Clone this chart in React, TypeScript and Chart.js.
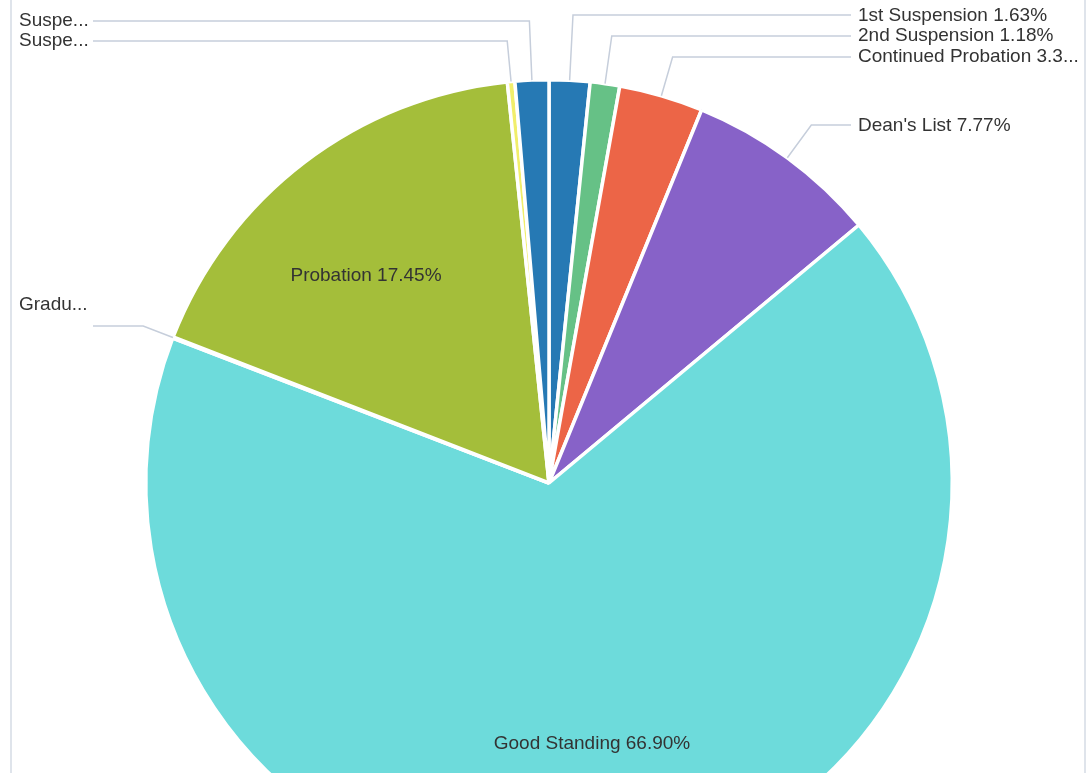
import React, { useEffect, useRef } from 'react';
import { Chart, registerables } from 'chart.js';

Chart.register(...registerables);

// ---- data ----
const categories = [
  '1st Suspension',
  '2nd Suspension',
  'Continued Probation',
  "Dean's List",
  'Good Standing',
  'Graduated',
  'Probation',
  'Suspended',
  'Suspension',
];
const values = [1.63, 1.18, 3.37, 7.77, 66.9, 0.05, 17.45, 0.3, 1.35];
const colors = ['#2679b4', '#66c186', '#ec6547', '#8762c8', '#6ddbdb', '#f3b46b', '#a4be3a', '#f1ee6b', '#2679b4'];

// ---- label layout (not data) ----
const outsideLabels = [
  { index: 0, side: 'right', rowY: 15, textY: 16 },
  { index: 1, side: 'right', rowY: 36, textY: 36 },
  { index: 2, side: 'right', rowY: 57, textY: 57 },
  { index: 3, side: 'right', rowY: 125, textY: 126 },
  { index: 8, side: 'left', rowY: 21, textY: 21 },
  { index: 7, side: 'left', rowY: 41, textY: 41 },
  { index: 5, side: 'left', rowY: 326, textY: 305 },
];
const insideLabels = [
  { index: 6, dx: -183, dy: -207 },
  { index: 4, dx: 43, dy: 261 },
];

const FONT = '19px "Liberation Sans", Arial, sans-serif';
const TEXT_COLOR = '#333333';
const LINE_COLOR = '#c6cedb';
const RIGHT_LINE_END = 851;
const RIGHT_TEXT_X = 858;
const RIGHT_MAX_W = 222;
const LEFT_TEXT_X = 19;
const LEFT_LINE_START = 93;
const LEFT_MAX_W = 72;

function fit(ctx: CanvasRenderingContext2D, text: string, maxW: number) {
  if (ctx.measureText(text).width <= maxW) return text;
  let s = text;
  while (s.length > 1 && ctx.measureText(s + '...').width > maxW) s = s.slice(0, -1);
  return s + '...';
}

const labelPlugin = {
  id: 'pieLabels',
  afterDatasetsDraw(chart: any) {
    const ctx: CanvasRenderingContext2D = chart.ctx;
    const meta = chart.getDatasetMeta(0);
    const total = values.reduce((a, b) => a + b, 0);
    const pct = (i: number) => ((values[i] / total) * 100).toFixed(2) + '%';
    ctx.save();
    ctx.font = FONT;
    ctx.textBaseline = 'middle';
    ctx.lineWidth = 1.5;
    ctx.strokeStyle = LINE_COLOR;
    outsideLabels.forEach((cfg) => {
      const arc = meta.data[cfg.index];
      const p = arc.getProps(['x', 'y', 'startAngle', 'endAngle', 'outerRadius'], true);
      const a = (p.startAngle + p.endAngle) / 2;
      const ax = p.x + p.outerRadius * Math.cos(a);
      const ay = p.y + p.outerRadius * Math.sin(a);
      const s = Math.sin(a);
      let t = Math.abs(s) > 1e-6 ? (cfg.rowY - ay) / s : 0;
      if (t < 0) t = 0;
      const ex = ax + t * Math.cos(a);
      const ey = cfg.rowY;
      const lx = cfg.side === 'right' ? RIGHT_LINE_END : LEFT_LINE_START;
      ctx.beginPath();
      ctx.moveTo(ax, ay);
      ctx.lineTo(ex, ey);
      ctx.lineTo(lx, ey);
      ctx.stroke();
      ctx.fillStyle = TEXT_COLOR;
      ctx.textAlign = 'left';
      const full = categories[cfg.index] + ' ' + pct(cfg.index);
      if (cfg.side === 'right') {
        ctx.fillText(fit(ctx, full, RIGHT_MAX_W), RIGHT_TEXT_X, cfg.textY);
      } else {
        ctx.fillText(fit(ctx, full, LEFT_MAX_W), LEFT_TEXT_X, cfg.textY);
      }
    });
    insideLabels.forEach((cfg) => {
      const arc = meta.data[cfg.index];
      const p = arc.getProps(['x', 'y'], true);
      ctx.fillStyle = TEXT_COLOR;
      ctx.textAlign = 'center';
      ctx.fillText(categories[cfg.index] + ' ' + pct(cfg.index), p.x + cfg.dx, p.y + cfg.dy);
    });
    ctx.restore();
  },
};

export default function App() {
  const ref = useRef<HTMLCanvasElement | null>(null);
  useEffect(() => {
    if (!ref.current) return;
    const chart = new Chart(ref.current, {
      type: 'pie',
      data: {
        labels: categories,
        datasets: [
          {
            data: values,
            backgroundColor: colors,
            borderColor: '#ffffff',
            borderWidth: 3.5,
          },
        ],
      },
      options: {
        responsive: false,
        animation: false,
        devicePixelRatio: 1,
        layout: { padding: { left: 144, right: 133, top: 78, bottom: 80 } },
        plugins: {
          legend: { display: false },
          tooltip: { enabled: false },
        },
      },
      plugins: [labelPlugin],
    });
    return () => chart.destroy();
  }, []);
  return (
    <div
      style={{
        position: 'absolute',
        left: 0,
        top: 0,
        width: 1087,
        height: 773,
        overflow: 'hidden',
        background: '#ffffff',
      }}
    >
      <canvas ref={ref} width={1087} height={968} style={{ position: 'absolute', left: 0, top: 0, width: 1087, height: 968 }} />
      <div style={{ position: 'absolute', left: 10, top: 0, width: 2, height: 773, background: '#dfe4eb' }} />
      <div style={{ position: 'absolute', left: 1084, top: 0, width: 2, height: 773, background: '#dfe4eb' }} />
    </div>
  );
}
